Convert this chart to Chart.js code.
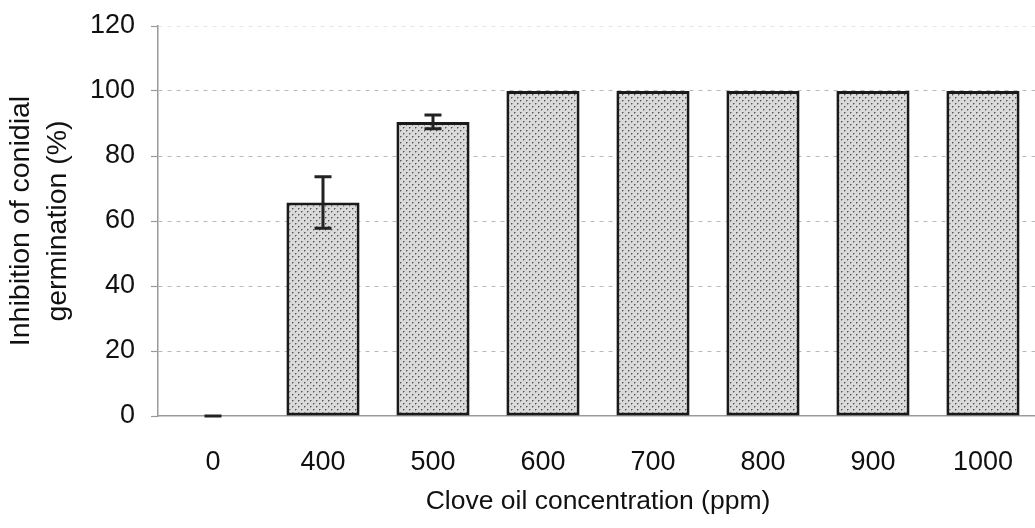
<!DOCTYPE html>
<html>
<head>
<meta charset="utf-8">
<script src="https://cdn.jsdelivr.net/npm/chart.js@4/dist/chart.umd.min.js"></script>
<style>
  html, body { margin: 0; padding: 0; background: #fff; overflow: hidden; }
  #wrap { position: relative; width: 1043px; height: 528px; }
</style>
</head>
<body>
<div id="wrap"><canvas id="chart"></canvas></div>
<script>
// Clove oil concentrations (ppm) on the x axis
const concentrations = ['0', '400', '500', '600', '700', '800', '900', '1000'];
// Mean inhibition of conidial germination (%)
const inhibition = [0, 65.7, 90.5, 100, 100, 100, 100, 100];
// Standard deviation for each mean
const stdDev = [0, 7.9, 2.1, 0, 0, 0, 0, 0];
// Y axis ticks
const yTicks = [0, 20, 40, 60, 80, 100, 120];

// Stippled grey fill for the bars
function stipple() {
  const c = document.createElement('canvas');
  c.width = 6; c.height = 6;
  const g = c.getContext('2d');
  g.fillStyle = '#dadada';
  g.fillRect(0, 0, 6, 6);
  g.fillStyle = '#555';
  g.fillRect(1, 1, 1, 1);
  g.fillRect(4, 4, 1, 1);
  g.fillStyle = '#999';
  g.fillRect(2, 1, 1, 1);
  g.fillRect(5, 4, 1, 1);
  g.fillRect(1, 2, 1, 1);
  g.fillRect(4, 5, 1, 1);
  return g.createPattern(c, 'repeat');
}

// Error bars with caps, drawn on top of the bars
const errorBars = {
  id: 'errorBars',
  afterDatasetsDraw(chart) {
    const ctx = chart.ctx;
    const y = chart.scales.y;
    const meta = chart.getDatasetMeta(0);
    ctx.save();
    ctx.strokeStyle = '#222';
    ctx.lineWidth = 3;
    meta.data.forEach((bar, i) => {
      // a zero deviation on a bar top is hidden by the bar outline
      if (stdDev[i] === 0 && inhibition[i] !== 0) return;
      const hi = y.getPixelForValue(inhibition[i] + stdDev[i]);
      const lo = y.getPixelForValue(inhibition[i] - stdDev[i]);
      const half = 8.5;
      ctx.beginPath();
      ctx.moveTo(bar.x, hi); ctx.lineTo(bar.x, lo);
      ctx.moveTo(bar.x - half, hi); ctx.lineTo(bar.x + half, hi);
      ctx.moveTo(bar.x - half, lo); ctx.lineTo(bar.x + half, lo);
      ctx.stroke();
    });
    ctx.restore();
  }
};

new Chart(document.getElementById('chart'), {
  type: 'bar',
  data: {
    labels: concentrations,
    datasets: [{
      data: inhibition,
      backgroundColor: stipple(),
      borderColor: '#1a1a1a',
      borderWidth: 3,
      borderSkipped: false,
      barPercentage: 0.665,
      categoryPercentage: 1.0
    }]
  },
  options: {
    responsive: true,
    maintainAspectRatio: false,
    animation: false,
    layout: { padding: { top: 26, right: 0, bottom: 0, left: 0 } },
    plugins: { legend: { display: false }, tooltip: { enabled: false } },
    scales: {
      x: {
        grid: { display: false, drawTicks: false },
        border: { display: true, color: '#9a9a9a', width: 1.5 },
        ticks: {
          color: '#111',
          padding: 30,
          font: { family: 'Liberation Sans', size: 27 }
        },
        title: {
          display: true,
          text: 'Clove oil concentration (ppm)',
          color: '#111',
          font: { family: 'Liberation Sans', size: 26.5 },
          padding: { top: 0, bottom: 10 }
        },
        afterFit(scale) { scale.height = 112; }
      },
      y: {
        min: 0,
        max: 120,
        afterBuildTicks(scale) { scale.ticks = yTicks.map(v => ({ value: v })); },
        grid: {
          color: ctx => ctx.tick && ctx.tick.value === 0 ? 'rgba(0,0,0,0)'
                      : ctx.tick && ctx.tick.value === 120 ? '#e6e6e6' : '#b8b8b8',
          lineWidth: 1,
          drawTicks: true,
          tickLength: 7,
          tickColor: '#9a9a9a',
          tickWidth: 1.2,
          tickBorderDash: []
        },
        border: { display: true, color: '#9a9a9a', width: 1.5, dash: [4, 5] },
        ticks: {
          color: '#111',
          padding: 16,
          font: { family: 'Liberation Sans', size: 27 }
        },
        title: {
          display: true,
          text: ['Inhibition of conidial', 'germination (%)'],
          color: '#111',
          font: { family: 'Liberation Sans', size: 28.5, lineHeight: 1.3 },
          padding: { top: 3, bottom: 0 }
        },
        afterFit(scale) {
          scale.width = 158;
          scale.paddingTop = 0;
          scale.paddingBottom = 0;
        }
      }
    }
  },
  plugins: [errorBars]
});
</script>
</body>
</html>
